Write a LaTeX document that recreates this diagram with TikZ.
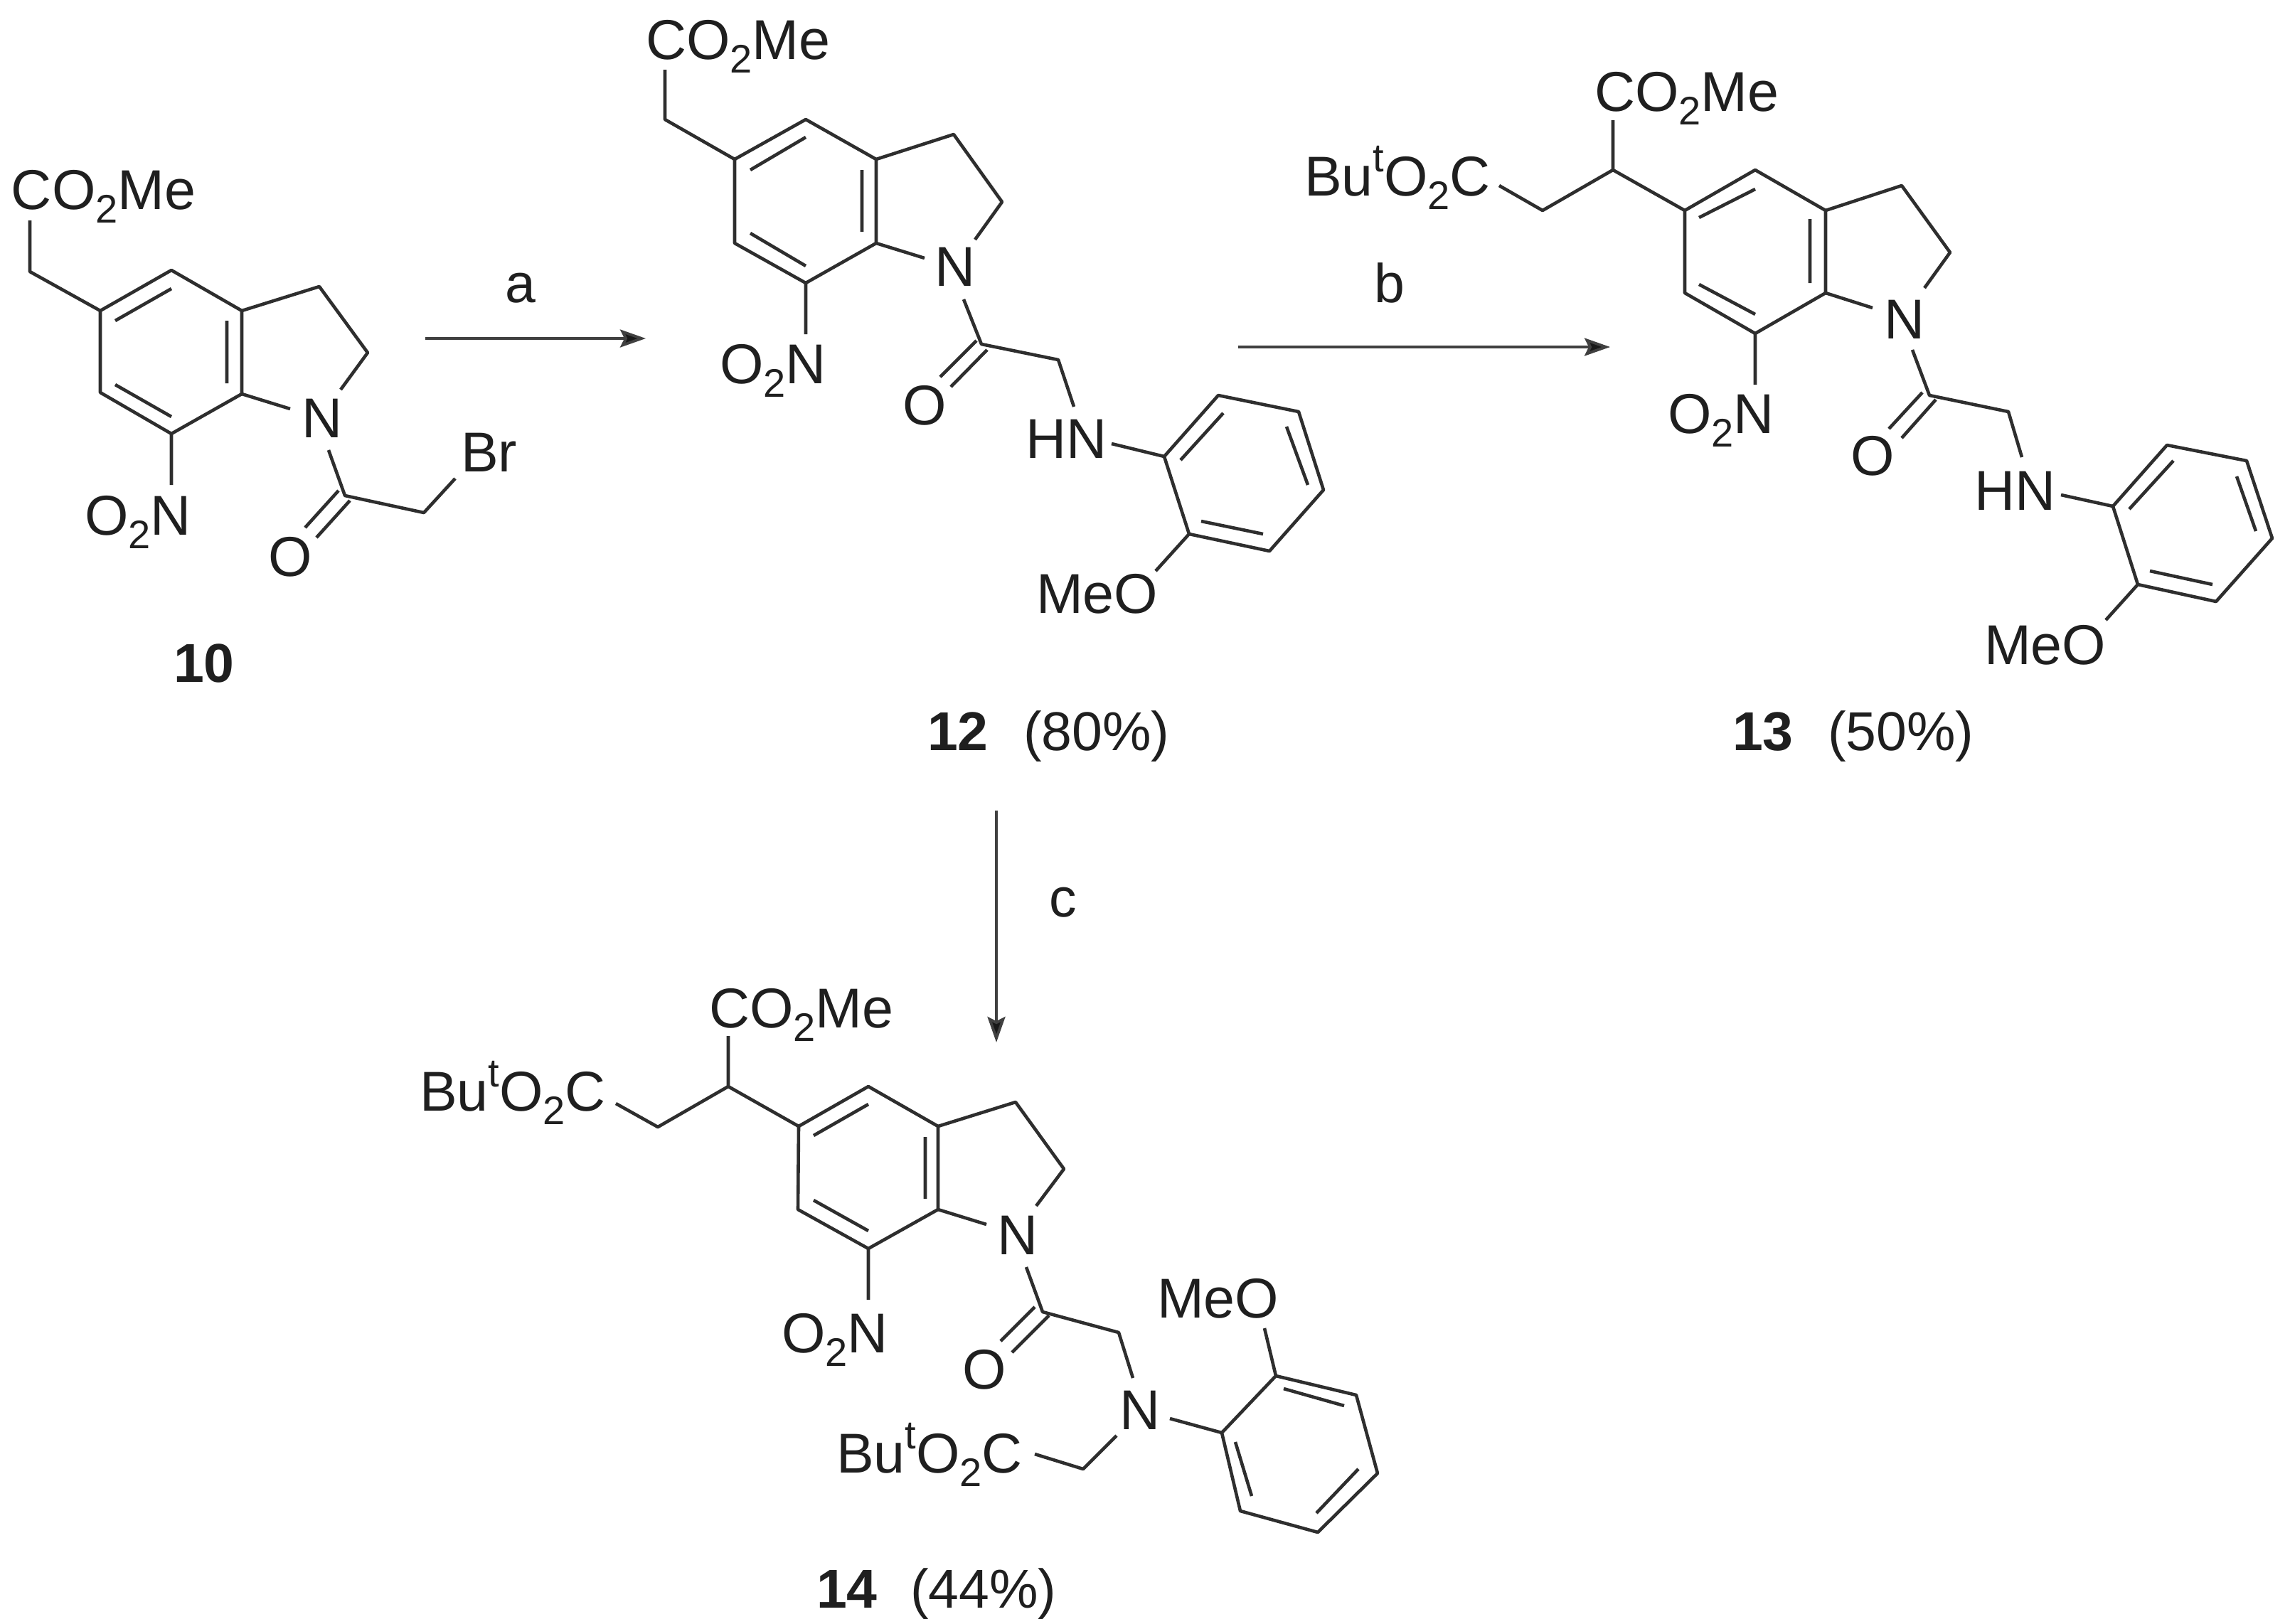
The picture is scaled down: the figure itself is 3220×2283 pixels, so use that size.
\documentclass[tikz,border=0pt]{standalone}
\usepackage{fontspec}
\setmainfont{Liberation Sans}
\usetikzlibrary{arrows.meta}
\newcommand{\lowtwo}{\raisebox{-.25em}{\fontsize{28}{28}\selectfont 2}}
\newcommand{\hight}{\raisebox{.42em}{\fontsize{28}{28}\selectfont t}}
\newcommand{\cotwome}{CO\lowtwo Me}
\newcommand{\buester}{Bu\hight O\lowtwo C}
\newcommand{\otwon}{O\lowtwo N}
\tikzset{
  bond/.style={line width=2.3pt,draw=black!82,line join=round},
  rxn/.style={line width=1.9pt,draw=black!75,-{Stealth[length=18pt,width=12.5pt,inset=3pt,fill=black!90]}},
  atom/.style={inner sep=0pt,outer sep=0pt,anchor=base west,text=black!88,font=\fontsize{39.5}{39.5}\selectfont},
  cmpd/.style={inner sep=0pt,outer sep=0pt,anchor=base west,text=black!88,font=\fontsize{38.5}{38.5}\selectfont},
  tag/.style={inner sep=0pt,outer sep=0pt,anchor=base,text=black!88,font=\fontsize{38.5}{38.5}\selectfont}
}
\newcommand{\pts}[1]{\foreach \n/\px/\py in {#1} {\coordinate (\n) at (\px,\py);}}
\begin{document}
\begin{tikzpicture}[x=0.5pt,y=-0.5pt]
\useasboundingbox (0,0) rectangle (3220,2283);
% ---------- compound 10
\pts{a0/42/310,a1/42/382,a5/141/437,a4/241/380,a3a/340/437,a7a/340/554,a7/241/610,a6/141/552,
a3/449/403,a2/517/496,aNr/479/548,aNl/408/575,aNd/462/633,aCO/485/697,aCH/596/721,aBr/640/673,
aO1s/429/742,aO1e/476/690,aO2s/445/756,aO2e/492/704,aNO/241/682,
ai1/162/451,ai2/241/406,ai3/319/451,ai4/319/539,ai5/162/541,ai6/241/586}
\node[atom] (aest) at (16,294) {\cotwome};
\node[atom] (aN) at (424,615) {N};
\node[atom] (aBrt) at (648,663) {Br};
\node[atom] (aO) at (377,810) {O};
\node[atom] (aNit) at (119,752) {\otwon};
\draw[bond] (a5)--(a4)--(a3a)--(a7a)--(a7)--(a6)--cycle;
\draw[bond] (a0)--(a1)--(a5) (a3a)--(a3)--(a2)--(aNr) (a7a)--(aNl) (aNd)--(aCO)--(aCH)--(aBr) (a7)--(aNO);
\draw[bond] (ai1)--(ai2) (ai3)--(ai4) (ai5)--(ai6) (aO1s)--(aO1e) (aO2s)--(aO2e);
\node[cmpd] (aLab) at (244,959) {\textbf{10}};
% ---------- arrow a
\pts{ra1/598/476,ra2/908/476}
\draw[rxn] (ra1)--(ra2);
\node[tag] (raT) at (732,425) {a};
% ---------- compound 12
\pts{b0/935/98,b1/935/168,b5/1033/224,b4/1133/168,b3a/1232/224,b7a/1232/342,b7/1133/398,b6/1033/342,
b3/1341/189,b2/1409/284,bNr/1371/337,bNl/1300/363,bNd/1355/421,bCO/1380/484,bCH/1488/506,bHu/1510/572,
bHr/1563/624,bA1/1637/642,bA2/1713/556,bA3/1826/579,bA4/1861/689,bA5/1785/775,bA6/1672/751,bOe/1625/803,
bO1s/1322/530,bO1e/1373/479,bO2s/1337/544,bO2e/1388/492,bNO/1133/470,
bi1/1055/239,bi2/1133/193,bi3/1212/239,bi4/1212/326,bi5/1055/328,bi6/1133/374,
bj1/1660/647,bj2/1720/581,bj3/1809/600,bj4/1839/682,bj5/1689/733,bj6/1776/751}
\node[atom] (best) at (908,83) {\cotwome};
\node[atom] (bN) at (1314,402) {N};
\node[atom] (bO) at (1269,597) {O};
\node[atom] (bNit) at (1012,539) {\otwon};
\node[atom] (bHN) at (1442,644) {HN};
\node[atom] (bMeO) at (1457,862) {MeO};
\draw[bond] (b5)--(b4)--(b3a)--(b7a)--(b7)--(b6)--cycle;
\draw[bond] (b0)--(b1)--(b5) (b3a)--(b3)--(b2)--(bNr) (b7a)--(bNl) (bNd)--(bCO)--(bCH)--(bHu) (b7)--(bNO) (bHr)--(bA1);
\draw[bond] (bA1)--(bA2)--(bA3)--(bA4)--(bA5)--(bA6)--cycle (bA6)--(bOe);
\draw[bond] (bi1)--(bi2) (bi3)--(bi4) (bi5)--(bi6) (bO1s)--(bO1e) (bO2s)--(bO2e) (bj1)--(bj2) (bj3)--(bj4) (bj5)--(bj6);
\node[cmpd] (bLab) at (1304,1055) {\textbf{12}};
\node[cmpd] (bYld) at (1439,1055) {(80\%)};
% ---------- arrow b
\pts{rb1/1741/488,rb2/2264/488}
\draw[rxn] (rb1)--(rb2);
\node[tag] (rbT) at (1954,425) {b};
% ---------- compound 13
\pts{c0/2268/169,c9/2268/239,c8/2169/296,c8e/2108/261,c5/2369/296,c4/2468/239,c3a/2567/296,c7a/2567/412,c7/2468/469,c6/2369/412,
c3/2674/261,c2/2742/355,cNr/2706/405,cNl/2633/433,cNd/2689/492,cCO/2713/556,cCH/2824/579,cHu/2843/643,
cHr/2898/696,cA1/2971/712,cA2/3047/626,cA3/3159/648,cA4/3195/757,cA5/3116/846,cA6/3006/822,cOe/2961/872,
cO1s/2656/603,cO1e/2703/552,cO2s/2674/616,cO2e/2722/562,cNO/2468/541,
ci1/2389/306,ci2/2468/266,ci3/2545/308,ci4/2545/398,ci5/2389/400,ci6/2468/442,
cj1/2994/716,cj2/3056/648,cj3/3145/670,cj4/3172/747,cj5/3023/803,cj6/3111/822}
\node[atom] (cest) at (2242,156) {\cotwome};
\node[atom] (cbu) at (1834,275) {\buester};
\node[atom] (cN) at (2649,476) {N};
\node[atom] (cO) at (2602,668) {O};
\node[atom] (cNit) at (2345,609) {\otwon};
\node[atom] (cHN) at (2776,717) {HN};
\node[atom] (cMeO) at (2790,934) {MeO};
\draw[bond] (c5)--(c4)--(c3a)--(c7a)--(c7)--(c6)--cycle;
\draw[bond] (c0)--(c9)--(c5) (c9)--(c8)--(c8e) (c3a)--(c3)--(c2)--(cNr) (c7a)--(cNl) (cNd)--(cCO)--(cCH)--(cHu) (c7)--(cNO) (cHr)--(cA1);
\draw[bond] (cA1)--(cA2)--(cA3)--(cA4)--(cA5)--(cA6)--cycle (cA6)--(cOe);
\draw[bond] (ci1)--(ci2) (ci3)--(ci4) (ci5)--(ci6) (cO1s)--(cO1e) (cO2s)--(cO2e) (cj1)--(cj2) (cj3)--(cj4) (cj5)--(cj6);
\node[cmpd] (cLab) at (2436,1055) {\textbf{13}};
\node[cmpd] (cYld) at (2570,1055) {(50\%)};
% ---------- arrow c
\pts{rc1/1401/1140,rc2/1401/1466}
\draw[rxn] (rc1)--(rc2);
\node[tag] (rcT) at (1495,1289) {c};
% ---------- compound 14
\pts{d0/1024/1457,d9/1024/1528,d8/925/1585,d8e/866/1552,d5/1123/1584,d4/1221/1528,d3a/1319/1584,d7a/1319/1701,d7/1221/1756,d6/1122/1701,
d3/1428/1550,d2/1496/1644,dNr/1457/1696,dNl/1387/1722,dNd/1443/1782,dCO/1466/1845,dCH/1573/1874,dNu/1593/1938,
dNw/1570/2019,dCb/1523/2066,dCbe/1455/2045,dNe/1645/1995,dA1/1718/2015,dA2/1794/1935,dA3/1907/1962,dA4/1937/2072,dA5/1853/2155,dA6/1744/2125,dOe/1778/1868,
dO1s/1407/1886,dO1e/1455/1838,dO2s/1423/1902,dO2e/1475/1850,dNO/1221/1828,
di1/1144/1597,di2/1221/1553,di3/1301/1599,di4/1301/1686,di5/1144/1688,di6/1221/1731,
dj1/1805/1953,dj2/1890/1977,dj3/1910/2066,dj4/1851/2128,dj5/1760/2104,dj6/1737/2028}
\node[atom] (dest) at (997,1445) {\cotwome};
\node[atom] (dbu) at (590,1562) {\buester};
\node[atom] (dN) at (1402,1764) {N};
\node[atom] (dO) at (1353,1953) {O};
\node[atom] (dNit) at (1099,1902) {\otwon};
\node[atom] (dN2) at (1574,2010) {N};
\node[atom] (dbu2) at (1176,2071) {\buester};
\node[atom] (dMeO) at (1627,1853) {MeO};
\draw[bond] (d5)--(d4)--(d3a)--(d7a)--(d7)--(d6)--cycle;
\draw[bond] (d0)--(d9)--(d5) (d9)--(d8)--(d8e) (d3a)--(d3)--(d2)--(dNr) (d7a)--(dNl) (dNd)--(dCO)--(dCH)--(dNu) (d7)--(dNO) (dNw)--(dCb)--(dCbe) (dNe)--(dA1);
\draw[bond] (dA1)--(dA2)--(dA3)--(dA4)--(dA5)--(dA6)--cycle (dA2)--(dOe);
\draw[bond] (di1)--(di2) (di3)--(di4) (di5)--(di6) (dO1s)--(dO1e) (dO2s)--(dO2e) (dj1)--(dj2) (dj3)--(dj4) (dj5)--(dj6);
\node[cmpd] (dLab) at (1148,2261) {\textbf{14}};
\node[cmpd] (dYld) at (1280,2261) {(44\%)};
\end{tikzpicture}
\end{document}
